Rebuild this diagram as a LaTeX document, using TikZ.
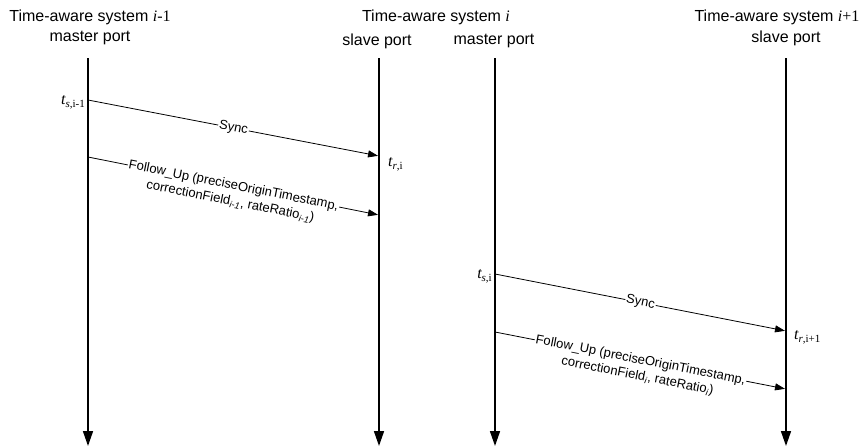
\documentclass[tikz,border=0pt]{standalone}
\usepackage{fontspec}
\setmainfont{Liberation Sans}
\newfontfamily\tnr{Liberation Serif}
\usetikzlibrary{arrows.meta}
\newcommand\tlab[1]{{\tnr\fontsize{16}{16}\selectfont\itshape t}\raisebox{-3pt}{\tnr\fontsize{11}{11}\selectfont #1}}
\begin{document}
\begin{tikzpicture}[x=1pt,y=-1pt,
  lifeline/.style={line width=1.6pt, -{Triangle[length=15pt,width=10pt]}},
  msg/.style={line width=0.8pt, -{Triangle[length=10pt,width=7pt]}, shorten >=1pt},
  hdr/.style={font=\fontsize{16}{19}\selectfont, inner sep=0pt},
  lbl/.style={font=\fontsize{13}{15}\selectfont, sloped, inner sep=1pt, fill=white},
  lbltwo/.style={font=\fontsize{13}{15}\selectfont, sloped, inner sep=0pt, anchor=north},
  tl/.style={inner sep=0pt}]
\useasboundingbox (0,0) rectangle (863,447);
% headers
\node[hdr] (h1) at (90,17) {Time-aware system {\tnr\itshape i}{\tnr -1}};
\node[hdr] (p1) at (90,38) {master port};
\node[hdr] (h2) at (436,17) {Time-aware system {\tnr\itshape i}};
\node[hdr] (p2) at (377,41) {slave port};
\node[hdr] (p3) at (494,41) {master port};
\node[hdr] (h3) at (777,17) {Time-aware system {\tnr\itshape i}{\tnr +1}};
\node[hdr] (p4) at (786,38) {slave port};
% lifelines
\coordinate (a1) at (88,58);  \coordinate (b1) at (88,446);
\coordinate (a2) at (379,58); \coordinate (b2) at (379,446);
\coordinate (a3) at (495,58); \coordinate (b3) at (495,446);
\coordinate (a4) at (786,58); \coordinate (b4) at (786,446);
\draw[lifeline] (a1) -- (b1);
\draw[lifeline] (a2) -- (b2);
\draw[lifeline] (a3) -- (b3);
\draw[lifeline] (a4) -- (b4);
% messages
\coordinate (s1a) at (88,100);  \coordinate (s1b) at (379,156);
\coordinate (f1a) at (88,157);  \coordinate (f1b) at (379,215);
\coordinate (s2a) at (495,274); \coordinate (s2b) at (786,331);
\coordinate (f2a) at (495,332); \coordinate (f2b) at (786,389);
\draw[msg] (s1a) -- node[lbl]{Sync} (s1b);
\draw[msg] (f1a) -- node[lbl]{Follow\_Up (preciseOriginTimestamp,}
  node[lbltwo]{\rule{0pt}{19pt}correctionField\textsubscript{\itshape i-1}, rateRatio\textsubscript{\itshape i-1})} (f1b);
\draw[msg] (s2a) -- node[lbl]{Sync} (s2b);
\draw[msg] (f2a) -- node[lbl]{Follow\_Up (preciseOriginTimestamp,}
  node[lbltwo]{\rule{0pt}{19pt}correctionField\textsubscript{\itshape i}, rateRatio\textsubscript{\itshape i})} (f2b);
% time labels
\node[tl, anchor=base east] (t1) at (85,104) {\tlab{{\itshape s},i-1}};
\node[tl, anchor=base west] (t2) at (388,166) {\tlab{{\itshape r},i}};
\node[tl, anchor=base east] (t3) at (492,278) {\tlab{{\itshape s},i}};
\node[tl, anchor=base west] (t4) at (794,339) {\tlab{{\itshape r},i+1}};
\end{tikzpicture}
\end{document}
